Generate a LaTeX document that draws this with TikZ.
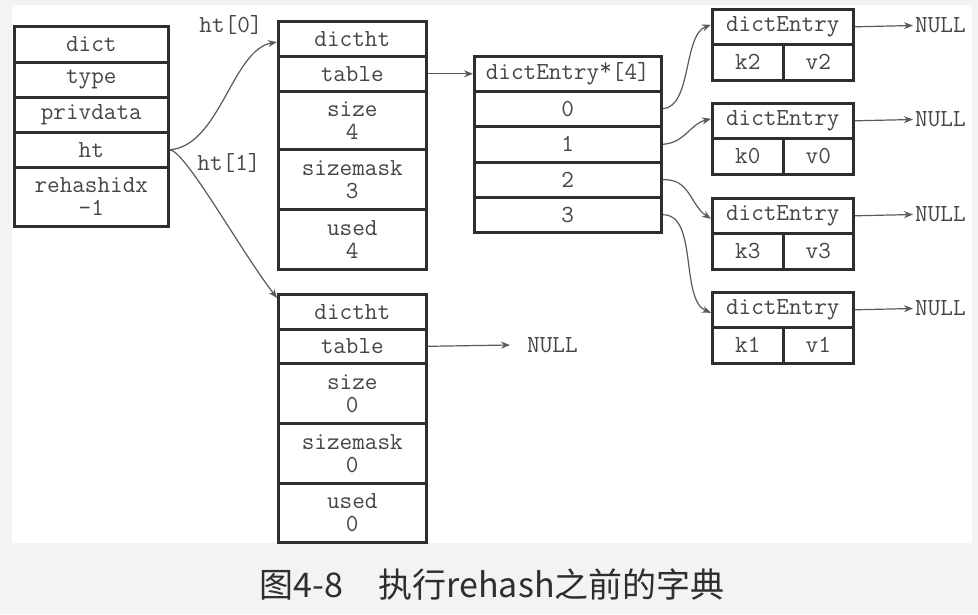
\documentclass[tikz,border=0pt]{standalone}
\usepackage{fontspec}
\newfontfamily\cjkfont{Noto Sans CJK SC}
\usetikzlibrary{arrows.meta}
\definecolor{bgc}{HTML}{F3F3F3}
\definecolor{boxc}{HTML}{2E2E2E}
\definecolor{txtc}{HTML}{454545}
\definecolor{linec}{HTML}{5A5A5A}
\definecolor{capc}{HTML}{2E2E2E}
\tikzset{
  cell/.style={draw=boxc, line width=2.6pt, text=txtc, anchor=north west, inner sep=0pt,
    font=\ttfamily\fontsize{24.5}{23}\selectfont, align=center},
  lbl/.style={text=txtc, inner sep=1pt, font=\ttfamily\fontsize{24.5}{23}\selectfont},
  conn/.style={draw=linec, line width=1.2pt, -{Stealth[length=9pt,width=7pt]}},
}
\begin{document}
\begin{tikzpicture}[x=1pt,y=-1pt]
\useasboundingbox (0,0) rectangle (978,614);
\fill[bgc] (0,0) rectangle (978,614);
\fill[white] (12,5) rectangle (972,543);

% dict
\node[cell, minimum width=154pt, minimum height=36pt] (d1) at (13,25) {dict};
\node[cell, minimum width=154pt, minimum height=35pt] (d2) at (13,61) {type};
\node[cell, minimum width=154pt, minimum height=35pt] (d3) at (13,96) {privdata};
\node[cell, minimum width=154pt, minimum height=35pt] (d4) at (13,131) {ht};
\node[cell, minimum width=154pt, minimum height=59pt] (d5) at (13,166) {rehashidx\\-1};

% dictht 0
\node[cell, minimum width=148pt, minimum height=35pt] (a1) at (277,20) {dictht};
\node[cell, minimum width=148pt, minimum height=35pt] (a2) at (277,55) {table};
\node[cell, minimum width=148pt, minimum height=58pt] (a3) at (277,90) {size\\4};
\node[cell, minimum width=148pt, minimum height=60pt] (a4) at (277,148) {sizemask\\3};
\node[cell, minimum width=148pt, minimum height=60pt] (a5) at (277,208) {used\\4};

% dictht 1
\node[cell, minimum width=148pt, minimum height=35pt] (b1) at (277,293) {dictht};
\node[cell, minimum width=148pt, minimum height=34pt] (b2) at (277,328) {table};
\node[cell, minimum width=148pt, minimum height=60pt] (b3) at (277,362) {size\\0};
\node[cell, minimum width=148pt, minimum height=60pt] (b4) at (277,422) {sizemask\\0};
\node[cell, minimum width=148pt, minimum height=59pt] (b5) at (277,482) {used\\0};

% array
\node[cell, minimum width=187pt, minimum height=35pt] (t0) at (473,55) {dictEntry\raisebox{0.35ex}{*}[4]};
\node[cell, minimum width=187pt, minimum height=35pt] (t1) at (473,90) {0};
\node[cell, minimum width=187pt, minimum height=36pt] (t2) at (473,125) {1};
\node[cell, minimum width=187pt, minimum height=35pt] (t3) at (473,161) {2};
\node[cell, minimum width=187pt, minimum height=35pt] (t4) at (473,196) {3};

% entries
\foreach \n/\y/\k/\v in {1/8/k2/v2, 2/102/k0/v0, 3/197/k3/v3, 4/291/k1/v1}{
  \node[cell, minimum width=141pt, minimum height=35pt] (e\n) at (711,\y) {dictEntry};
  \node[cell, minimum width=71pt, minimum height=36pt] (k\n) at (711,\y+35) {\k};
  \node[cell, minimum width=70pt, minimum height=36pt] (v\n) at (782,\y+35) {\v};
  \node[lbl, anchor=west, inner xsep=2pt] (n\n) at (913,\y+17.5) {NULL};
  \draw[conn] (e\n.east) -- (n\n.west);
}

% labels
\node[lbl] (l0) at (231,25) {ht[0]};
\node[lbl] (l1) at (229,163) {ht[1]};
\node[lbl, anchor=west, inner xsep=17pt] (n5) at (510,345) {NULL};

% connectors
\coordinate (ht0tip) at (277,42);
\coordinate (ht1tip) at (277,298);
\draw[conn] (d4.east) .. controls (220,146) and (232,50) .. (ht0tip);
\draw[conn] (d4.east) .. controls (185,150) and (240,250) .. (ht1tip);
\draw[conn] (a2.east) -- (t0.west);
\draw[conn] (b2.east) -- (n5.west);
\draw[conn] (t1.east) .. controls (692,107) and (683,35) .. ([yshift=2pt]e1.west);
\draw[conn] (t2.east) .. controls (685,143) and (690,124) .. ([yshift=2pt]e2.west);
\draw[conn] (t3.east) .. controls (690,178) and (690,205) .. ([yshift=-3pt]e3.west);
\draw[conn] (t4.east) .. controls (698,213) and (680,300) .. ([yshift=-3pt]e4.west);

% caption
\node[text=capc, font=\cjkfont\fontsize{34}{36}\selectfont, inner sep=0pt] (cap) at (492,585) {图4-8\hspace{1.05em}执行rehash之前的字典};
\end{tikzpicture}
\end{document}
